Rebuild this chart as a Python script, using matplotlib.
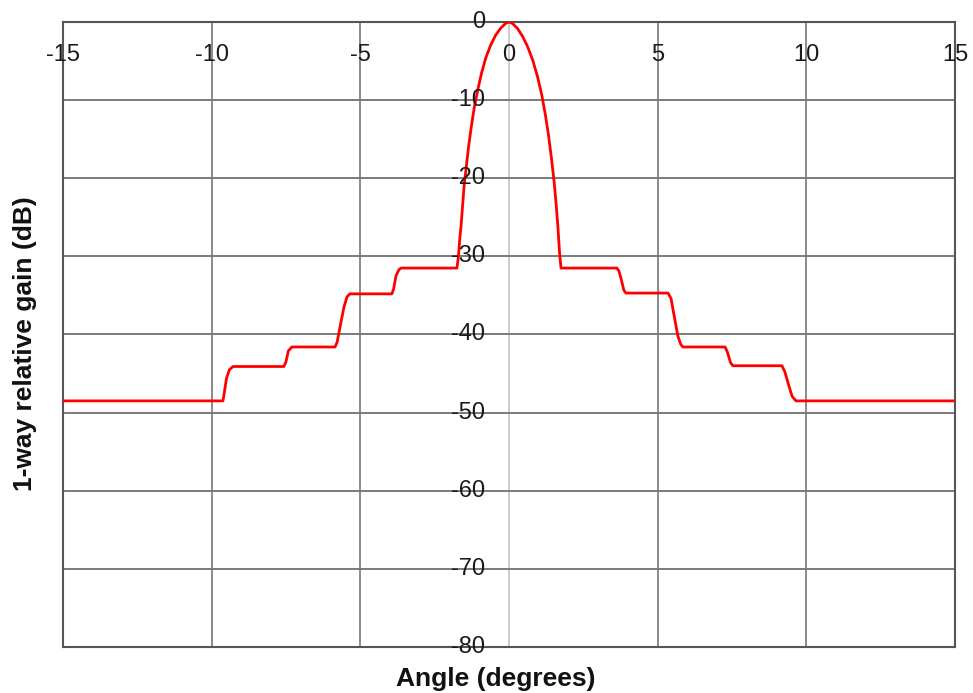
import numpy as np
import matplotlib
matplotlib.use('Agg')
import matplotlib.pyplot as plt
from matplotlib.transforms import offset_copy

plt.rcParams['font.family'] = ['Liberation Sans', 'DejaVu Sans']

# beam pattern (angle in degrees, 1-way gain in dB)
angle = [-15.0, -9.62, -9.58, -9.50, -9.40, -9.28,
         -7.57, -7.50, -7.42, -7.30,
         -5.85, -5.78, -5.68, -5.55, -5.45, -5.35,
         -3.94, -3.88, -3.80, -3.70, -3.63,
         -1.75, -1.70, -1.66, -1.61, -1.56, -1.51, -1.45, -1.36, -1.27, -1.17, -1.05,
         -0.92, -0.78, -0.62, -0.45, -0.28, -0.12, 0.0,
         0.12, 0.28, 0.45, 0.62, 0.80, 0.96, 1.10, 1.22, 1.33, 1.43, 1.52, 1.59,
         1.65, 1.70, 1.75,
         3.63, 3.70, 3.78, 3.86, 3.93,
         5.35, 5.45, 5.55, 5.68, 5.78, 5.85,
         7.27, 7.35, 7.45, 7.53,
         9.18, 9.28, 9.40, 9.52, 9.65, 15.0]
gain = [-48.5, -48.5, -47.6, -45.6, -44.5, -44.1,
        -44.1, -43.5, -42.1, -41.6,
        -41.6, -41.0, -39.0, -36.5, -35.2, -34.8,
        -34.8, -34.2, -32.5, -31.7, -31.5,
        -31.5, -30.0, -28.0, -26.0, -23.5, -21.0, -19.0, -16.0, -13.5, -11.0, -8.7,
        -6.5, -4.6, -3.0, -1.7, -0.8, -0.2, 0.0,
        -0.2, -0.8, -1.8, -3.1, -4.9, -7.0, -9.3, -11.8, -14.5, -17.5, -20.5, -23.5,
        -26.5, -29.5, -31.5,
        -31.5, -31.9, -33.0, -34.3, -34.7,
        -34.7, -35.4, -37.5, -40.2, -41.3, -41.6,
        -41.6, -42.3, -43.6, -44.0,
        -44.0, -44.8, -46.4, -47.9, -48.5, -48.5]

xticks = [-15, -10, -5, 0, 5, 10, 15]
yticks = [0, -10, -20, -30, -40, -50, -60, -70, -80]

fig = plt.figure(figsize=(9.73, 6.93), dpi=100)
ax = fig.add_axes([0.0647, 0.0664, 0.9168, 0.9019])
ax.set_xlim(-15, 15)
ax.set_ylim(-80, 0)

for x in xticks:
    if x == 0:
        ax.axvline(x, color='#c4c4c4', linewidth=1.2, zorder=1)
    elif abs(x) != 15:
        ax.axvline(x, color='#8a8a8a', linewidth=1.4, zorder=1)
for y in yticks[1:-1]:
    ax.axhline(y, color='#7a7a7a', linewidth=1.4, zorder=1)

ax.plot(angle, gain, color='#ff0000', linewidth=2.0, zorder=3,
        solid_joinstyle='round')

for s in ax.spines.values():
    s.set_color('#555555')
    s.set_linewidth(1.5)
ax.set_xticks([])
ax.set_yticks([])

# tick labels sit on the centre lines, like the original
tx = offset_copy(ax.transData, fig=fig, x=0, y=-33, units='dots')
for x in xticks:
    ax.text(x, 0, str(x), transform=tx, ha='center', va='center',
            fontsize=17, color='#1a1a1a', zorder=4, clip_on=False)
ty = offset_copy(ax.transData, fig=fig, x=-24, y=0, units='dots')
for y in yticks:
    ax.text(0, y, str(y), transform=ty, ha='right', va='center',
            fontsize=17, color='#1a1a1a', zorder=4, clip_on=False)

fig.text(496 / 973, 1 - 679 / 693, 'Angle (degrees)', ha='center', va='center',
         fontsize=19, fontweight='bold', color='#111111')
fig.text(25 / 973, 1 - 344 / 693, '1-way relative gain (dB)', ha='center', va='center',
         rotation=90, fontsize=19, fontweight='bold', color='#111111')

fig.savefig('out.png', dpi=100)
